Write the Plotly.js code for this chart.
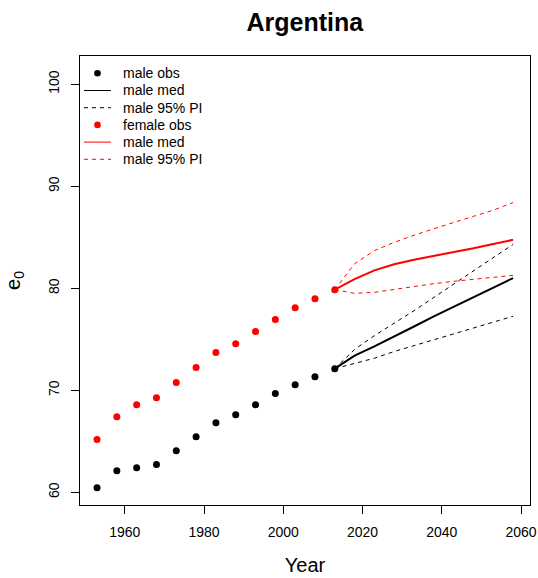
<!DOCTYPE html>
<html>
<head>
<meta charset="utf-8">
<script src="https://cdn.plot.ly/plotly-3.0.1.min.js"></script>
<style>html,body{margin:0;padding:0;background:#fff;}#chart{width:538px;height:578px;}</style>
</head>
<body>
<div id="chart"></div>
<script>
// Observed years and values
const yearsObs = [1953, 1958, 1963, 1968, 1973, 1978, 1983, 1988, 1993, 1998, 2003, 2008, 2013];
const maleObs = [60.45, 62.12, 62.41, 62.71, 64.08, 65.45, 66.82, 67.61, 68.59, 69.67, 70.55, 71.33, 72.12];
const femaleObs = [65.16, 67.41, 68.59, 69.27, 70.75, 72.22, 73.69, 74.57, 75.75, 76.93, 78.10, 78.98, 79.86];

// Projection years and values
const yearsProj = [2013, 2018, 2023, 2028, 2033, 2038, 2043, 2048, 2053, 2058];
const maleMed = [72.12, 73.40, 74.30, 75.25, 76.25, 77.25, 78.20, 79.15, 80.10, 81.00];
const maleUp  = [72.12, 74.00, 75.35, 76.55, 77.80, 79.10, 80.40, 81.70, 83.00, 84.30];
const maleLo  = [72.12, 72.65, 73.14, 73.80, 74.37, 74.95, 75.50, 76.07, 76.63, 77.25];
const femMed  = [79.86, 80.90, 81.75, 82.35, 82.80, 83.15, 83.53, 83.92, 84.34, 84.75];
const femUp   = [79.86, 82.40, 83.70, 84.50, 85.20, 85.85, 86.45, 87.05, 87.65, 88.40];
const femLo   = [79.86, 79.50, 79.60, 79.90, 80.20, 80.45, 80.68, 80.87, 81.08, 81.27];

// Legend entries (label, colour, key kind)
const legendNames  = ["male obs", "male med", "male 95% PI", "female obs", "male med", "male 95% PI"];
const legendColors = ["black", "black", "black", "red", "red", "red"];
const legendKinds  = ["dot", "solid", "dash", "dot", "solid", "dash"];

const FONT = "Liberation Sans, Arial, Helvetica, sans-serif";
const dashed = {width: 1, dash: "4px,4px"};

const traces = [
  {x: yearsObs, y: maleObs, type: "scatter", mode: "markers", name: legendNames[0],
   marker: {color: "black", size: 7}},
  {x: yearsProj, y: maleMed, type: "scatter", mode: "lines", name: legendNames[1],
   line: {color: "black", width: 2}},
  {x: yearsProj, y: maleUp, type: "scatter", mode: "lines", name: legendNames[2],
   line: Object.assign({color: "black"}, dashed)},
  {x: yearsProj, y: maleLo, type: "scatter", mode: "lines", name: legendNames[2],
   line: Object.assign({color: "black"}, dashed)},
  {x: yearsObs, y: femaleObs, type: "scatter", mode: "markers", name: legendNames[3],
   marker: {color: "red", size: 7}},
  {x: yearsProj, y: femMed, type: "scatter", mode: "lines", name: legendNames[4],
   line: {color: "red", width: 2}},
  {x: yearsProj, y: femUp, type: "scatter", mode: "lines", name: legendNames[5],
   line: Object.assign({color: "red"}, dashed)},
  {x: yearsProj, y: femLo, type: "scatter", mode: "lines", name: legendNames[5],
   line: Object.assign({color: "red"}, dashed)}
];

// Plot-area geometry (px) for the hand-built legend
const W = 538, H = 578;
const M = {l: 80, r: 8, t: 56, b: 73};
const PW = W - M.l - M.r, PH = H - M.t - M.b;
const px = v => (v - M.l) / PW;
const py = v => (H - M.b - v) / PH;

const shapes = [];
const annotations = [];
legendNames.forEach((name, i) => {
  const yc = 73.3 + i * 17.2;
  const col = legendColors[i];
  if (legendKinds[i] === "dot") {
    shapes.push({type: "circle", xref: "paper", yref: "paper",
      x0: px(97.5 - 3.3), x1: px(97.5 + 3.3), y0: py(yc + 3.3), y1: py(yc - 3.3),
      fillcolor: col, line: {color: col, width: 0}});
  } else {
    shapes.push({type: "line", xref: "paper", yref: "paper",
      x0: px(84), x1: px(111), y0: py(yc), y1: py(yc),
      line: {color: col, width: 1, dash: legendKinds[i] === "dash" ? "4px,4px" : "solid"}});
  }
  annotations.push({xref: "paper", yref: "paper", x: px(121), y: py(yc),
    xanchor: "left", yanchor: "middle", showarrow: false, text: name,
    font: {family: FONT, size: 14, color: "black"}});
});

const layout = {
  width: W, height: H,
  margin: M,
  paper_bgcolor: "white", plot_bgcolor: "white",
  font: {family: FONT, color: "black", size: 14},
  title: {text: "<b>Argentina</b>", font: {family: FONT, size: 25, color: "black"},
          x: 0.5665, xanchor: "center", xref: "container", y: 0.962, yanchor: "middle", yref: "container"},
  xaxis: {
    range: [1948.7, 2062.27], tickvals: [1960, 1980, 2000, 2020, 2040, 2060],
    ticks: "outside", ticklen: 8, tickcolor: "black", tickwidth: 1,
    showline: true, mirror: true, linecolor: "black", linewidth: 1,
    showgrid: false, zeroline: false,
    tickfont: {family: FONT, size: 14, color: "black"},
    ticklabelstandoff: 6,
    title: {text: "Year", font: {family: FONT, size: 20, color: "black"}, standoff: 19}
  },
  yaxis: {
    range: [58.75, 102.77], tickvals: [60, 70, 80, 90, 100],
    ticks: "outside", ticklen: 8, tickcolor: "black", tickwidth: 1, tickangle: -90,
    showline: true, mirror: true, linecolor: "black", linewidth: 1,
    showgrid: false, zeroline: false,
    tickfont: {family: FONT, size: 14, color: "black"},
    ticklabelstandoff: 6,
    title: {text: "e<sub>0</sub>", font: {family: FONT, size: 20, color: "black"}, standoff: 20}
  },
  shapes: shapes,
  annotations: annotations,
  showlegend: false
};

Plotly.newPlot("chart", traces, layout, {displayModeBar: false, staticPlot: true});
</script>
</body>
</html>
